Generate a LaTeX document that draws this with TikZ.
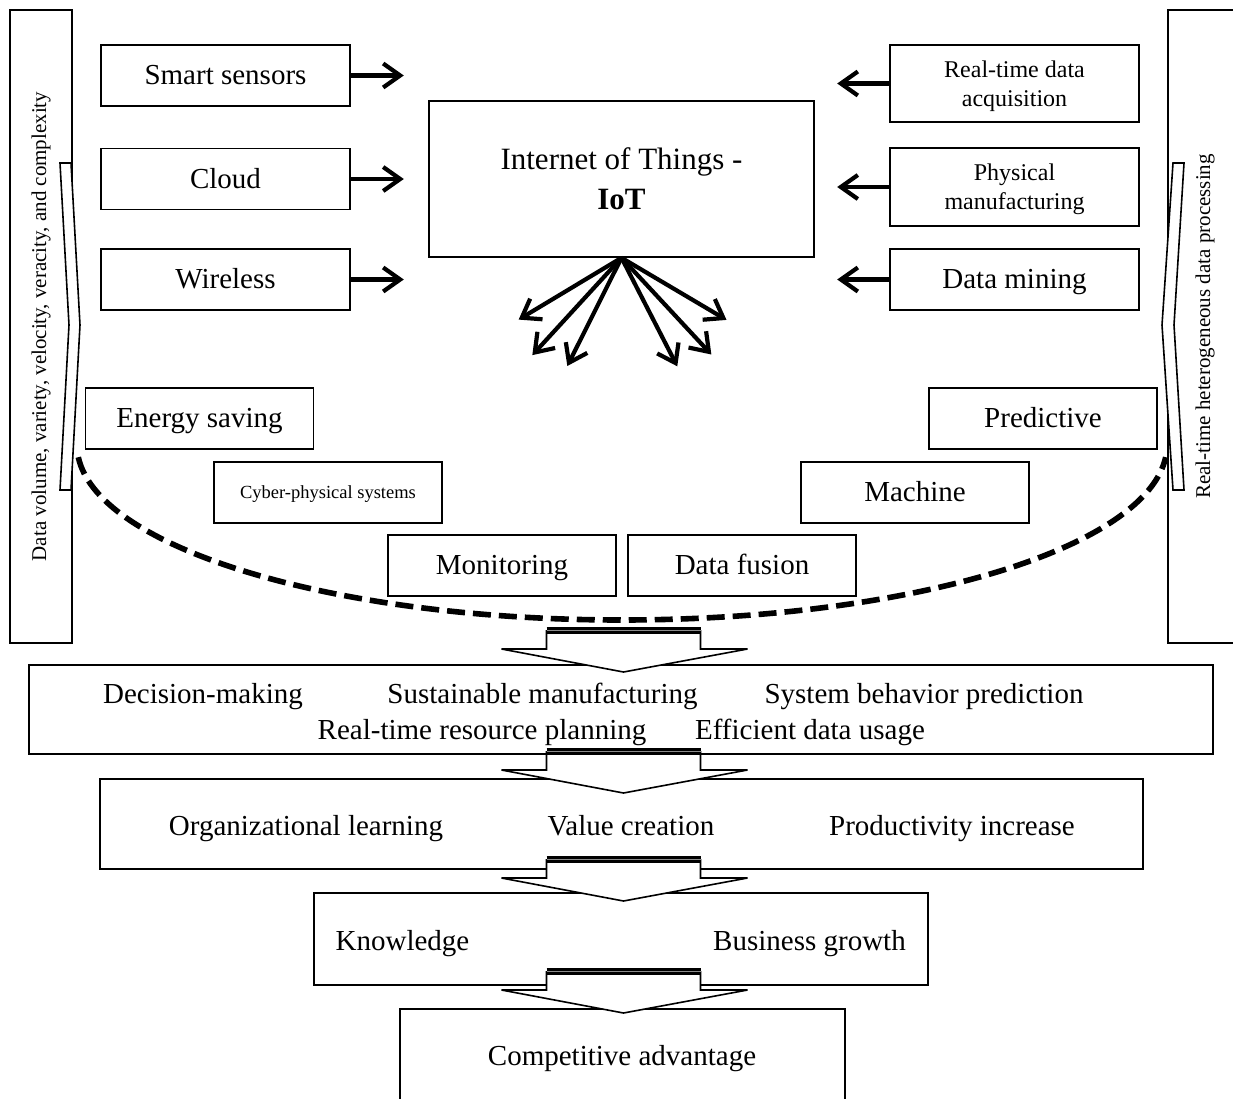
\documentclass[tikz,border=0pt]{standalone}
\usepackage{fontspec}
\setmainfont{Liberation Serif}
\usetikzlibrary{arrows.meta}

\tikzset{
  txt/.style={font=\fontsize{29}{34}\selectfont, inner sep=0pt, text height=24pt, text depth=6pt},
  smalltxt/.style={font=\fontsize{24}{29}\selectfont},
  sidetxt/.style={font=\fontsize{21}{25}\selectfont},
  box/.style={draw, line width=1.6pt, inner sep=0pt, align=center},
  srcbox/.style={box, txt, minimum width=249pt, minimum height=61pt},
  twobox/.style={box, smalltxt, minimum width=249pt},
  midbox/.style={box, txt, minimum width=228pt, minimum height=61pt},
  feed/.style={line width=4.2pt, -{Straight Barb[length=17pt,width=24pt]}},
}

\newcommand{\flowarrow}[2]{% x, y of the bar on top
  \begin{scope}[shift={(#1,#2)}]
    \draw[line width=1.6pt, fill=white] (-77,0) -- (-77,19) -- (-122,19) -- (0,42) -- (124,19) -- (77,19) -- (77,0);
    \draw[line width=7pt] (-77,0) -- (77,0);
    \draw[black!45, line width=0.8pt] (-77,0) -- (77,0);
  \end{scope}
}

\begin{document}
\begin{tikzpicture}[x=1pt, y=-1pt]
\clip (0,0) rectangle (1233,1098);

% Side bands
\node[box, sidetxt, rotate=90, minimum width=633pt, minimum height=62pt] (volume) at (41,326.5) {Data volume, variety, velocity, veracity, and complexity};
\node[box, sidetxt, rotate=90, minimum width=633pt, minimum height=74pt] (hetero) at (1205,326.5) {Real-time heterogeneous data processing};
\draw[line width=1.6pt, fill=white] (60,163) -- (71,163) -- (80,325) -- (71,490) -- (60,490) -- (69,325) -- cycle;
\draw[line width=1.6pt, fill=white] (1184,163) -- (1173,163) -- (1162,325) -- (1173,490) -- (1184,490) -- (1174,325) -- cycle;

% Internet of Things and its inputs
\node[box, font=\fontsize{31}{40}\selectfont, minimum width=385pt, minimum height=156pt] (iot) at (621.5,179) {Internet of Things -\\\textbf{IoT}};
\node[srcbox] (sensors) at (225.5,75.5) {Smart sensors};
\node[srcbox] (cloud) at (225.5,179) {Cloud};
\node[srcbox] (wireless) at (225.5,279.5) {Wireless};
\node[twobox, minimum height=77pt] (acquisition) at (1014.5,83.5) {\rule{0pt}{22pt}Real-time data\\acquisition};
\node[twobox, minimum height=78pt] (physical) at (1014.5,187) {\rule{0pt}{22pt}Physical\\manufacturing};
\node[srcbox] (mining) at (1014.5,279.5) {Data mining};

\draw[feed] (sensors.east) -- ++(53,0);
\draw[feed] (cloud.east) -- ++(53,0);
\draw[feed] (wireless.east) -- ++(53,0);
\draw[feed] (acquisition.west) -- ++(-52,0);
\draw[feed] (physical.west) -- ++(-52,0);
\draw[feed] (mining.west) -- ++(-52,0);

% Fan of outputs
\foreach \ang/\len in {149/120, 132.5/132, 116.6/121, 62.8/122, 47.1/132, 30.6/122}
  \draw[feed] (iot.south) -- ++(\ang:\len);

% Applications
\node[midbox] (energy) at (199.5,418.5) {Energy saving};
\node[midbox, font=\fontsize{18.5}{22}\selectfont, text height=15pt, text depth=4pt] (cps) at (328,492.5) {Cyber-physical systems};
\node[midbox] (monitoring) at (502,565.5) {Monitoring};
\node[midbox] (fusion) at (742,565.5) {Data fusion};
\node[midbox] (machine) at (915,492.5) {Machine};
\node[midbox] (predictive) at (1043,418.5) {Predictive};

\draw[line width=5.6pt, dash pattern=on 18pt off 8pt] (78.3,457.2) arc[start angle=176, end angle=4, x radius=545, y radius=175];

% Outcome stages
\node[box, minimum width=1184pt, minimum height=89pt] (stage1) at (621,709.5) {};
\node[box, minimum width=1043pt, minimum height=90pt] (stage2) at (621.5,824) {};
\node[box, minimum width=614pt, minimum height=92pt] (stage3) at (621,939) {};
\node[box, minimum width=445pt, minimum height=130pt, anchor=north] (stage4) at (622.5,1008) {};

\node[txt] (decision) at (203,694) {Decision-making};
\node[txt] (sustain) at (542.5,694) {Sustainable manufacturing};
\node[txt] (behavior) at (924,694) {System behavior prediction};
\node[txt] (planning) at (482,730) {Real-time resource planning};
\node[txt] (usage) at (810,730) {Efficient data usage};
\node[txt] (learning) at (306,826) {Organizational learning};
\node[txt] (value) at (631,826) {Value creation};
\node[txt] (productivity) at (952,826) {Productivity increase};
\node[txt] (knowledge) at (402.5,941) {Knowledge};
\node[txt] (growth) at (809.5,941) {Business growth};
\node[txt] (advantage) at (622,1056) {Competitive advantage};

\flowarrow{623.5}{630}
\flowarrow{623.5}{751}
\flowarrow{623.5}{859}
\flowarrow{623.5}{971}

\end{tikzpicture}
\end{document}
